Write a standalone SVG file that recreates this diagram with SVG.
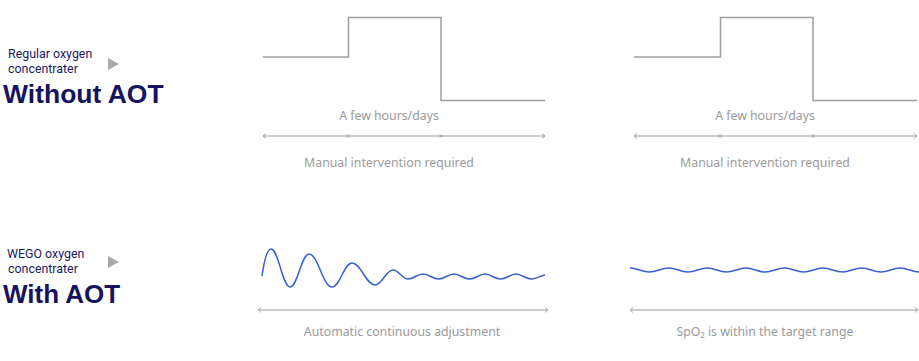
<svg xmlns="http://www.w3.org/2000/svg" width="919" height="361" viewBox="0 0 919 361">
<style>
.lbl{font-family:Roboto,"Liberation Sans",sans-serif;font-size:12.4px;fill:#1c1a62}
.ttl{font-family:"Liberation Sans",Arial,sans-serif;font-weight:bold;fill:#16135f}
.cap{font-family:"Noto Sans","Liberation Sans",sans-serif;font-size:12.3px;fill:#9a9a9a;text-anchor:middle}
.step{fill:none;stroke:#9e9e9e;stroke-width:1.5}
.axis{fill:none;stroke:#bdbdbd;stroke-width:1.6}
.tick{fill:none;stroke:#a8a8a8;stroke-width:1}
.wave{fill:none;stroke:#3a5fcf;stroke-width:1.5}
.tri{fill:#a9a9a9}
</style>
<rect width="919" height="361" fill="#ffffff"/>

<g id="row-without">
  <text class="lbl" x="8" y="58">Regular oxygen</text>
  <text class="lbl" x="8" y="73">concentrater</text>
  <polygon class="tri" points="108,58 108,70 119,64"/>
  <text class="ttl" x="3" y="103" font-size="26.5">Without AOT</text>
</g>

<g id="row-with">
  <text class="lbl" x="7" y="258">WEGO oxygen</text>
  <text class="lbl" x="8" y="273">concentrater</text>
  <polygon class="tri" points="108,256 108,268 119,262"/>
  <text class="ttl" x="3" y="303" font-size="26">With AOT</text>
</g>

<g id="chart-top-left">
  <path class="step" d="M263,57 H348.5 V17.5 H441 V100.5 H545"/>
  <text class="cap" x="389" y="120">A few hours/days</text>
  <text class="cap" x="389" y="167">Manual intervention required</text>
</g>

<g id="chart-top-right">
  <path class="step" d="M634,57 H720.5 V17.5 H813 V100.5 H917"/>
  <text class="cap" x="765" y="120">A few hours/days</text>
  <text class="cap" x="765" y="167">Manual intervention required</text>
</g>

<g id="chart-bottom-left">
  <path class="wave" d="M262,276 C264,262 267,249 271,249 C278.6,249 282.4,287 290,287 C297.6,287 301.4,254 309,254 C318.2,254 322.8,287 332,287 C340,287 344,263 352,263 C361.2,263 365.8,285 375,285 C382.2,285 385.8,270 393,270 C399,270 402,279 408,279 C414.2,279 416.8,274 423,274 S432.3,279 438.5,279 S448,274 454,274 S463.3,279 469.5,279 S479,274 485,274 S494.3,279 500.5,279 S510,274 516,274 S525.3,279 531.5,279 S541,275 545,275"/>
  <text class="cap" x="402" y="336">Automatic continuous adjustment</text>
</g>

<g id="chart-bottom-right">
  <path class="wave" d="M630,268 c7.7,0 11.6,4 19.3,4 s11.6,-4 19.3,-4 s11.6,4 19.3,4 s11.6,-4 19.3,-4 s11.6,4 19.3,4 s11.6,-4 19.3,-4 s11.6,4 19.3,4 s11.6,-4 19.3,-4 s11.6,4 19.3,4 s11.6,-4 19.3,-4 s11.6,4 19.3,4 s11.6,-4 19.3,-4 s11.6,4 19.3,4 s11.6,-4 19.3,-4 s11.6,4 19.3,4"/>
  <text class="cap" x="765" y="336">SpO₂ is within the target range</text>
</g>

<g id="connectors">
  <line class="axis" x1="263" y1="136" x2="545" y2="136"/>
  <path class="tick" d="M266,133.5 L263,136 L266,138.5 M542,133.5 L545,136 L542,138.5"/>
  <path class="tick" d="M346.5,134.5 L350,137.5 M350,134.5 L346.5,137.5 M439.5,134.5 L443,137.5 M443,134.5 L439.5,137.5"/>
  <line class="axis" x1="634" y1="136" x2="917" y2="136"/>
  <path class="tick" d="M637,133.5 L634,136 L637,138.5 M914,133.5 L917,136 L914,138.5"/>
  <path class="tick" d="M718.5,134.5 L722,137.5 M722,134.5 L718.5,137.5 M811.5,134.5 L815,137.5 M815,134.5 L811.5,137.5"/>
  <line class="axis" x1="258" y1="310" x2="548" y2="310"/>
  <path class="tick" d="M261,307.5 L258,310 L261,312.5 M545,307.5 L548,310 L545,312.5"/>
  <line class="axis" x1="630" y1="310" x2="918" y2="310"/>
  <path class="tick" d="M633,307.5 L630,310 L633,312.5 M915,307.5 L918,310 L915,312.5"/>
</g>
</svg>
